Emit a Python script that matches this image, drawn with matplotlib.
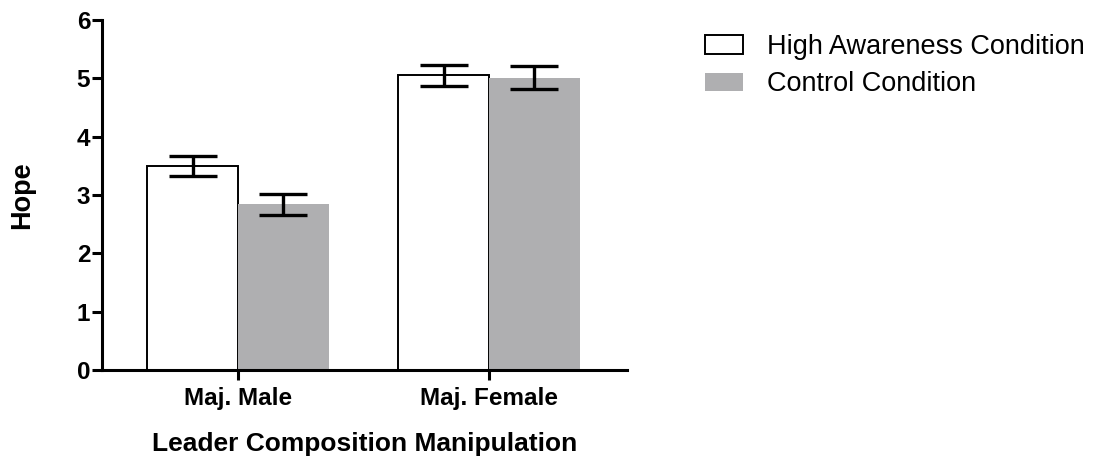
import numpy as np
import matplotlib.pyplot as plt

plt.rcParams['font.family'] = ['Liberation Sans', 'DejaVu Sans']

groups = ["Maj. Male", "Maj. Female"]
high_mean = [3.50, 5.05]
high_err = [0.17, 0.18]
ctrl_mean = [2.84, 5.01]
ctrl_err = [0.18, 0.20]

x = np.arange(len(groups))
w = 0.362

fig = plt.figure(figsize=(11.04, 4.63), dpi=100)
ax = fig.add_axes([102 / 1104, 1 - 370 / 463, 525 / 1104, 350 / 463])

err_kw = dict(ecolor="black", elinewidth=2.4, capsize=17.5, capthick=2.4)
ax.bar(x - w / 2, high_mean, w, color="white", edgecolor="black",
       linewidth=1.4, label="High Awareness Condition", zorder=2)
ax.bar(x + w / 2, ctrl_mean, w, color="#afafb1", linewidth=0,
       label="Control Condition", zorder=2)
ax.errorbar(x - w / 2, high_mean, yerr=high_err, fmt="none", zorder=3, **err_kw)
ax.errorbar(x + w / 2, ctrl_mean, yerr=ctrl_err, fmt="none", zorder=3, **err_kw)

ax.set_xlim(-0.542, 1.55)
ax.set_ylim(0, 6)
ax.set_yticks(range(7))
ax.set_xticks(x)
ax.set_xticklabels(groups, fontsize=17.5, fontweight="bold")
for lab in ax.get_yticklabels():
    lab.set_fontsize(17.5)
    lab.set_fontweight("bold")

for s in ["top", "right"]:
    ax.spines[s].set_visible(False)
for s in ["left", "bottom"]:
    ax.spines[s].set_linewidth(2.2)
ax.tick_params(axis="both", width=2.2, length=7)
ax.tick_params(axis="y", pad=1.5)
ax.tick_params(axis="x", pad=5)

ax.set_xlabel("Leader Composition Manipulation", fontsize=19,
              fontweight="bold", labelpad=16)
ax.set_ylabel("Hope", fontsize=19.5, fontweight="bold", labelpad=30)

fig.legend(loc="upper left", bbox_to_anchor=(705 / 1104, 1 - 34 / 463),
           frameon=False, fontsize=19.5, handlelength=1.4, handleheight=0.67,
           handletextpad=0.9, labelspacing=0.42, borderpad=0, borderaxespad=0)

fig.savefig("out.png", dpi=100)
